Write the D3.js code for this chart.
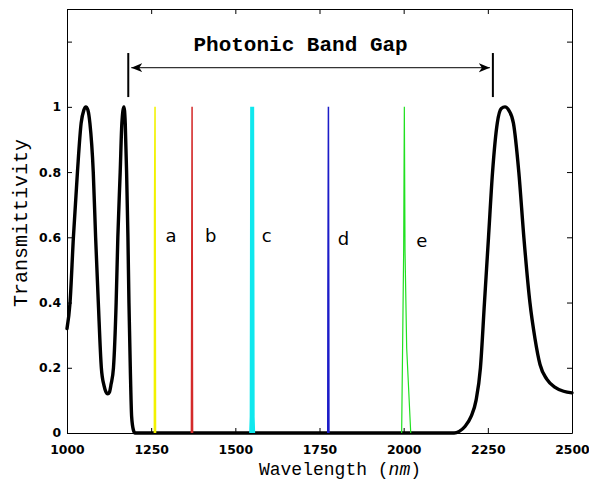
<!DOCTYPE html>
<html>
<head>
<meta charset="utf-8">
<script src="https://cdn.jsdelivr.net/npm/d3@7"></script>
<style>
  body { margin: 0; background: #fff; }
  svg { display: block; }
</style>
</head>
<body>
<svg id="chart" width="589" height="482"></svg>
<script>
// transmission curve of the structure
var curveWl = [1000, 1009, 1019, 1031, 1042, 1050, 1056, 1062, 1068, 1078, 1085, 1093, 1102, 1110, 1116, 1121, 1126, 1131, 1138, 1146, 1151, 1158, 1163, 1169, 1173, 1177, 1181, 1184, 1188, 1192, 1197, 1202, 1215,
  1600, 2000, 2150, 2165, 2182, 2200, 2215, 2228, 2240, 2252, 2264, 2278, 2290, 2301, 2312, 2326, 2342, 2357, 2375, 2390, 2405, 2425, 2450, 2475, 2500];
var curveT = [0.32, 0.4, 0.6, 0.8, 0.95, 0.99, 1, 0.99, 0.95, 0.8, 0.6, 0.4, 0.2, 0.145, 0.125, 0.12, 0.125, 0.15, 0.2, 0.4, 0.6, 0.8, 0.95, 1, 0.95, 0.8, 0.6, 0.4, 0.2, 0.05, 0.01, 0, 0,
  0, 0, 0, 0.005, 0.02, 0.05, 0.1, 0.2, 0.4, 0.6, 0.8, 0.95, 0.995, 1, 0.99, 0.95, 0.8, 0.6, 0.4, 0.29, 0.21, 0.165, 0.14, 0.128, 0.123];

// defect modes a..e
var modeNames = ['a', 'b', 'c', 'd', 'e'];
var modeWl = [
  [1259.5, 1260, 1261.5, 1262.5, 1263],
  [1369.5, 1370, 1371.5, 1372.5, 1373],
  [1547, 1548.5, 1550, 1551.5, 1553],
  [1774.5, 1775, 1776.5, 1777.5, 1778],
  [1994, 2000, 2002, 2004, 2009, 2021]
];
var modeT = [
  [0, 0.68, 1, 0.3, 0],
  [0, 0.22, 1, 0.22, 0],
  [0, 0.05, 1, 0.05, 0],
  [0, 0.42, 1, 0.42, 0],
  [0, 0.56, 1, 0.56, 0.26, 0]
];
var labelWl = [1309, 1427, 1593, 1821, 2054];
var labelT = [0.585, 0.585, 0.585, 0.575, 0.57];

// band gap annotation
var gapStart = 1182, gapEnd = 2265;
var gapBarT = [1.03, 1.165];
var gapArrowT = 1.12;
var gapText = 'Photonic Band Gap';

var xTicks = [1000, 1250, 1500, 1750, 2000, 2250, 2500];
var yTicks = [0, 0.2, 0.4, 0.6, 0.8, 1, 1.2];
var yLabelMax = 1;

var modeColors = ['#f2f200', '#d42a2a', '#10e8ee', '#1c1cc8', '#20e020'];
var modeWidths = [1.5, 1.5, 4, 1.5, 1.2];

var svg = d3.select('#chart');
var margin = {top: 9, right: 17, bottom: 49, left: 67};
var width = 589 - margin.left - margin.right;
var height = 482 - margin.top - margin.bottom;

var g = svg.append('g').attr('transform', 'translate(' + margin.left + ',' + margin.top + ')');

var x = d3.scaleLinear().domain([1000, 2500]).range([0, width]);
var y = d3.scaleLinear().domain([0, 1.3]).range([height, 0]);

var line = d3.line()
  .x(function(d){ return x(d[0]); })
  .y(function(d){ return y(d[1]); });

var smoothLine = d3.line()
  .curve(d3.curveMonotoneX)
  .x(function(d){ return x(d[0]); })
  .y(function(d){ return y(d[1]); });

// axes, ticks inside on all four sides
var tickFont = function(sel){
  sel.selectAll('text')
    .attr('fill', '#000')
    .style('font-family', '"DejaVu Sans", sans-serif')
    .style('font-weight', 'bold')
    .style('font-size', '12.4px');
  sel.selectAll('line').attr('stroke', '#000');
  sel.select('.domain').attr('stroke', '#000');
};

g.append('g')
  .attr('transform', 'translate(0,' + height + ')')
  .call(d3.axisBottom(x).tickValues(xTicks).tickSizeInner(-5).tickSizeOuter(0).tickPadding(12).tickFormat(d3.format('d')))
  .call(tickFont);

g.append('g')
  .call(d3.axisTop(x).tickValues(xTicks).tickSizeInner(-5).tickSizeOuter(0).tickFormat(''))
  .call(tickFont);

g.append('g')
  .call(d3.axisLeft(y).tickValues(yTicks).tickSizeInner(-5).tickSizeOuter(0).tickPadding(6)
    .tickFormat(function(v){ return v > yLabelMax ? '' : d3.format('~g')(v); }))
  .call(tickFont);

g.append('g')
  .attr('transform', 'translate(' + width + ',0)')
  .call(d3.axisRight(y).tickValues(yTicks).tickSizeInner(-5).tickSizeOuter(0).tickFormat(''))
  .call(tickFont);

// black transmission curve
g.append('path')
  .datum(curveWl.map(function(w, i){ return [w, curveT[i]]; }))
  .attr('fill', 'none')
  .attr('stroke', '#000')
  .attr('stroke-width', 3.4)
  .attr('stroke-linejoin', 'round')
  .attr('stroke-linecap', 'round')
  .attr('d', smoothLine);

// defect modes
g.selectAll('.mode')
  .data(modeNames)
  .enter().append('path')
    .attr('class', 'mode')
    .attr('fill', 'none')
    .attr('stroke', function(d, i){ return modeColors[i]; })
    .attr('stroke-width', function(d, i){ return modeWidths[i]; })
    .attr('d', function(d, i){
      return line(modeWl[i].map(function(w, j){ return [w, modeT[i][j]]; }));
    });

g.selectAll('.mode-label')
  .data(modeNames)
  .enter().append('text')
    .attr('class', 'mode-label')
    .attr('x', function(d, i){ return x(labelWl[i]); })
    .attr('y', function(d, i){ return y(labelT[i]); })
    .attr('text-anchor', 'middle')
    .style('font-family', '"DejaVu Sans", sans-serif')
    .style('font-size', '18px')
    .text(function(d){ return d; });

// band gap arrow
var defs = svg.append('defs');
defs.append('marker')
  .attr('id', 'head')
  .attr('viewBox', '0 -5 11 10')
  .attr('refX', 11)
  .attr('refY', 0)
  .attr('markerWidth', 11)
  .attr('markerHeight', 10)
  .attr('markerUnits', 'userSpaceOnUse')
  .attr('orient', 'auto-start-reverse')
  .append('path')
    .attr('d', 'M0,-4.5L11,0L0,4.5L3,0Z')
    .attr('fill', '#000');

[gapStart, gapEnd].forEach(function(w){
  g.append('line')
    .attr('x1', x(w)).attr('x2', x(w))
    .attr('y1', y(gapBarT[0])).attr('y2', y(gapBarT[1]))
    .attr('stroke', '#000')
    .attr('stroke-width', 2);
});

g.append('line')
  .attr('x1', x(gapStart) + 3).attr('x2', x(gapEnd) - 3)
  .attr('y1', y(gapArrowT)).attr('y2', y(gapArrowT))
  .attr('stroke', '#000')
  .attr('stroke-width', 1)
  .attr('marker-start', 'url(#head)')
  .attr('marker-end', 'url(#head)');

g.append('text')
  .attr('x', x((gapStart + gapEnd) / 2) - 10)
  .attr('y', 42)
  .attr('text-anchor', 'middle')
  .style('font-family', '"Liberation Mono", "Courier New", monospace')
  .style('font-weight', 'bold')
  .style('font-size', '21px')
  .text(gapText);

// axis titles
svg.append('text')
  .attr('transform', 'translate(27,223) rotate(-90)')
  .attr('text-anchor', 'middle')
  .style('font-family', '"Liberation Mono", "Courier New", monospace')
  .style('font-size', '20px')
  .text('Transmittivity');

var xt = svg.append('text')
  .attr('x', 340)
  .attr('y', 475)
  .attr('text-anchor', 'middle')
  .style('font-family', '"Liberation Mono", "Courier New", monospace')
  .style('font-size', '18px');
xt.append('tspan').text('Wavelength (');
xt.append('tspan').style('font-style', 'italic').text('nm');
xt.append('tspan').text(')');
</script>
</body>
</html>
